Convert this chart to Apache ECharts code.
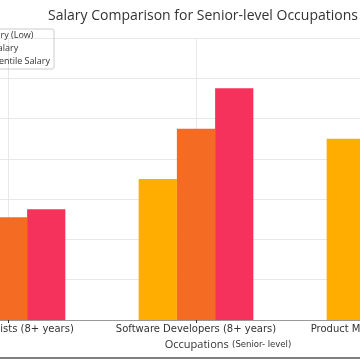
<!DOCTYPE html>
<html><head><meta charset="utf-8">
<script src="https://cdn.jsdelivr.net/npm/echarts@6/dist/echarts.min.js"></script>
<style>html,body{margin:0;padding:0;background:#fff}#wrap{position:relative;width:360px;height:360px;overflow:hidden}#c{position:absolute;left:-166px;top:0;width:738px;height:360px}</style>
</head><body><div id="wrap"><div id="c"></div></div>
<script>
const categories = ['Data Scientists (8+ years)', 'Software Developers (8+ years)', 'Product Managers (8+ years)'];
const seriesNames = ['Entry Salary (Low)', 'Median Salary', '90th Percentile Salary'];
const lowSalary = [44000, 70000, 90000];
const medianSalary = [51000, 95000, 112000];
const p90Salary = [55000, 115000, 135000];
const colors = ['#FFAE00', '#F46C23', '#F5325B'];

const chart = echarts.init(document.getElementById('c'));
const data = [lowSalary, medianSalary, p90Salary];
chart.setOption({
  animation: false,
  title: { text: 'Salary Comparison for Senior-level Occupations', left: 'center', top: 4,
    textStyle: { fontFamily: 'Open Sans', fontSize: 14, fontWeight: 'normal', color: '#333' } },
  legend: { orient: 'vertical', right: 518, top: 29, itemGap: 4, itemWidth: 14, itemHeight: 9,
    padding: [2, 4, 3, 4], borderColor: '#ccc', borderWidth: 1, borderRadius: 2,
    textStyle: { fontFamily: 'Open Sans', fontSize: 9, color: '#333' }, icon: 'rect' },
  grid: { left: 80, right: 94, top: 38, bottom: 40, containLabel: false },
  xAxis: {
    type: 'category', data: categories,
    axisLine: { lineStyle: { color: '#999' } },
    axisTick: { show: true, alignWithLabel: true, length: 3, lineStyle: { color: '#333' } },
    splitLine: { show: true, alignWithLabel: true, lineStyle: { color: '#e8e8e8' } },
    axisLabel: { fontFamily: 'DejaVu Sans', fontSize: 10, color: '#333', margin: 4, interval: 0 },
    name: '{a|Occupations} {b|(Senior- level)}', nameLocation: 'middle', nameGap: 16,
    nameTextStyle: { padding: [0, 0, 0, 64], rich: {
      a: { fontFamily: 'Open Sans', fontSize: 11, color: '#333' },
      b: { fontFamily: 'DejaVu Sans', fontSize: 8.5, color: '#333' } } }
  },
  yAxis: { type: 'value', min: 0, max: 140000, interval: 20000,
    axisLabel: { show: true, fontSize: 9 }, splitLine: { lineStyle: { color: '#e8e8e8' } } },
  series: seriesNames.map((n, i) => ({ name: n, type: 'bar', data: data[i], barGap: '0%', barCategoryGap: '39%',
    itemStyle: { color: colors[i] } })),
  graphic: [{ type: 'line', shape: { x1: 0, y1: 358, x2: 738, y2: 358 }, style: { stroke: '#555', lineWidth: 1.5 } }]
});
</script></body></html>
